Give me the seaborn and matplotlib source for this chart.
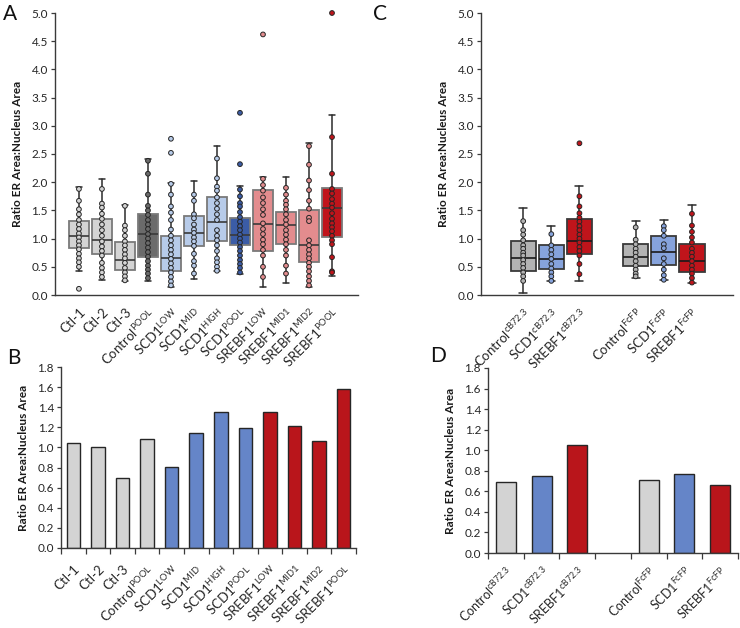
import numpy as np
import pandas as pd
import matplotlib
matplotlib.use("Agg")
import matplotlib.pyplot as plt
import seaborn as sns

# ---------------- data ----------------
a_names = ["Ctl-1", "Ctl-2", "Ctl-3", "Control POOL", "SCD1 LOW", "SCD1 MID", "SCD1 HIGH",
           "SCD1 POOL", "SREBF1 LOW", "SREBF1 MID1", "SREBF1 MID2", "SREBF1 POOL"]
a_labels = ["Ctl-1", "Ctl-2", "Ctl-3", r"Control$^{\mathregular{POOL}}$", r"SCD1$^{\mathregular{LOW}}$",
            r"SCD1$^{\mathregular{MID}}$", r"SCD1$^{\mathregular{HIGH}}$", r"SCD1$^{\mathregular{POOL}}$",
            r"SREBF1$^{\mathregular{LOW}}$", r"SREBF1$^{\mathregular{MID1}}$", r"SREBF1$^{\mathregular{MID2}}$",
            r"SREBF1$^{\mathregular{POOL}}$"]
a_q1 = [0.83, 0.73, 0.45, 0.67, 0.42, 0.87, 0.95, 0.89, 0.78, 0.90, 0.58, 1.02]
a_med = [1.04, 0.98, 0.62, 1.08, 0.65, 1.10, 1.30, 1.07, 1.26, 1.24, 0.88, 1.55]
a_q3 = [1.31, 1.34, 0.94, 1.43, 1.04, 1.40, 1.74, 1.37, 1.86, 1.47, 1.50, 1.90]
a_lo = [0.42, 0.27, 0.24, 0.24, 0.15, 0.29, 0.42, 0.37, 0.15, 0.21, 0.15, 0.33]
a_hi = [1.92, 2.05, 1.60, 2.41, 1.99, 2.03, 2.64, 1.93, 2.09, 2.10, 2.69, 3.20]
a_points = {
    "Ctl-1": [1.88, 1.67, 1.52, 1.43, 1.33, 1.25, 1.17, 1.09, 1.02, 0.95, 0.88, 0.81, 0.73, 0.65, 0.58, 0.50, 0.11],
    "Ctl-2": [1.88, 1.62, 1.55, 1.44, 1.35, 1.25, 1.15, 1.05, 0.95, 0.86, 0.78, 0.70, 0.57, 0.48, 0.40, 0.32],
    "Ctl-3": [1.58, 1.23, 1.15, 1.05, 0.95, 0.88, 0.80, 0.72, 0.65, 0.57, 0.48, 0.40, 0.33, 0.26],
    "Control POOL": [2.38, 2.15, 1.78, 1.58, 1.50, 1.42, 1.33, 1.25, 1.17, 1.08, 1.00, 0.92, 0.84, 0.76,
                     0.68, 0.60, 0.52, 0.45, 0.38, 0.30],
    "SCD1 LOW": [2.77, 2.52, 1.97, 1.78, 1.57, 1.46, 1.33, 1.16, 1.05, 0.97, 0.88, 0.80, 0.72, 0.64,
                 0.56, 0.48, 0.40, 0.32, 0.24, 0.17],
    "SCD1 MID": [1.78, 1.67, 1.43, 1.36, 1.25, 1.16, 1.10, 1.02, 0.95, 0.87, 0.73, 0.60, 0.52, 0.38],
    "SCD1 HIGH": [2.42, 2.07, 1.92, 1.85, 1.73, 1.63, 1.53, 1.43, 1.33, 1.15, 1.05, 0.97, 0.88, 0.78,
                  0.65, 0.58, 0.50, 0.43],
    "SCD1 POOL": [3.23, 2.32, 1.87, 1.75, 1.63, 1.57, 1.47, 1.38, 1.30, 1.22, 1.15, 1.07, 1.00, 0.93,
                  0.85, 0.78, 0.70, 0.62, 0.55, 0.48, 0.40],
    "SREBF1 LOW": [4.62, 2.06, 1.95, 1.85, 1.73, 1.63, 1.52, 1.42, 1.27, 1.17, 1.08, 0.98, 0.90, 0.80,
                   0.70, 0.50, 0.32],
    "SREBF1 MID1": [1.90, 1.78, 1.67, 1.60, 1.52, 1.43, 1.33, 1.25, 1.15, 1.07, 0.98, 0.90, 0.80, 0.70,
                    0.52, 0.38],
    "SREBF1 MID2": [2.64, 2.31, 2.03, 1.86, 1.67, 1.53, 1.37, 1.31, 0.97, 0.88, 0.80, 0.72, 0.65, 0.57,
                    0.50, 0.42, 0.33, 0.25, 0.17],
    "SREBF1 POOL": [5.00, 2.80, 2.15, 1.88, 1.80, 1.70, 1.62, 1.55, 1.45, 1.35, 1.27, 1.20, 1.13, 1.05,
                    0.97, 0.90, 0.67, 0.42, 0.40],
}

c_names = ["Control cB72.3", "SCD1 cB72.3", "SREBF1 cB72.3", "Control FcFP", "SCD1 FcFP", "SREBF1 FcFP"]
c_labels = [r"Control$^{\mathregular{cB72.3}}$", r"SCD1$^{\mathregular{cB72.3}}$", r"SREBF1$^{\mathregular{cB72.3}}$",
            r"Control$^{\mathregular{FcFP}}$", r"SCD1$^{\mathregular{FcFP}}$", r"SREBF1$^{\mathregular{FcFP}}$"]
c_q1 = [0.43, 0.46, 0.73, 0.52, 0.54, 0.40]
c_med = [0.66, 0.64, 0.95, 0.68, 0.76, 0.60]
c_q3 = [0.95, 0.88, 1.34, 0.90, 1.04, 0.90]
c_lo = [0.04, 0.24, 0.24, 0.31, 0.26, 0.21]
c_hi = [1.54, 1.22, 1.93, 1.32, 1.33, 1.59]
c_points = {
    "Control cB72.3": [1.31, 1.15, 1.07, 0.97, 0.88, 0.82, 0.75, 0.70, 0.62, 0.55, 0.48, 0.40, 0.33, 0.25],
    "SCD1 cB72.3": [1.08, 0.88, 0.80, 0.72, 0.64, 0.55, 0.47, 0.40, 0.33, 0.25],
    "SREBF1 cB72.3": [2.69, 1.75, 1.57, 1.45, 1.37, 1.30, 1.22, 1.15, 1.07, 1.00, 0.93, 0.85, 0.78, 0.70,
                      0.55, 0.37],
    "Control FcFP": [1.20, 0.98, 0.90, 0.82, 0.75, 0.68, 0.60, 0.52, 0.45, 0.38, 0.33],
    "SCD1 FcFP": [1.22, 1.15, 1.05, 0.90, 0.83, 0.65, 0.55, 0.45, 0.35, 0.27],
    "SREBF1 FcFP": [1.44, 1.23, 1.12, 1.02, 0.93, 0.82, 0.75, 0.68, 0.60, 0.52, 0.45, 0.38, 0.30, 0.22],
}

b_values = [1.04, 1.00, 0.70, 1.08, 0.81, 1.14, 1.35, 1.19, 1.35, 1.21, 1.06, 1.58]
d_values = [0.69, 0.75, 1.05, 0.71, 0.77, 0.66]

# ---------------- style ----------------
sns.set_theme(style="white")
plt.rcParams["font.family"] = ["Lato", "DejaVu Sans"]
plt.rcParams["mathtext.fontset"] = "custom"
plt.rcParams["mathtext.rm"] = "Lato"
plt.rcParams["mathtext.it"] = "Lato"
plt.rcParams["mathtext.bf"] = "Lato:bold"

a_colors = ["#d4d4d4", "#d4d4d4", "#d4d4d4", "#6b6b6b", "#b7cbe9", "#b7cbe9", "#b7cbe9", "#3b5ca6",
            "#e38c8e", "#e38c8e", "#e38c8e", "#c0141b"]
c_colors = ["#b3b3b3", "#86a3dc", "#c0141b", "#b3b3b3", "#86a3dc", "#c0141b"]
b_colors = ["#d3d3d3"] * 4 + ["#6585c8"] * 4 + ["#b9151b"] * 4
d_colors = ["#d3d3d3", "#6585c8", "#b9151b", "#d3d3d3", "#6585c8", "#b9151b"]

fig = plt.figure(figsize=(7.4, 6.28), dpi=100)
W, H = 740, 628


def add_ax(l, r, t, b):
    return fig.add_axes([l / W, 1 - b / H, (r - l) / W, (b - t) / H])


axA = add_ax(55, 358, 13, 295)
axC = add_ax(481, 733, 13, 295)
axB = add_ax(61, 356, 367, 548)
axD = add_ax(488, 738, 368, 553)

spine_col = "#3a3a3a"


def style_axis(ax, yticks):
    for s in ["top", "right"]:
        ax.spines[s].set_visible(False)
    for s in ["left", "bottom"]:
        ax.spines[s].set_color(spine_col)
        ax.spines[s].set_linewidth(1.0)
    ax.set_yticks(yticks)
    ax.set_yticklabels([f"{v:.1f}" for v in yticks], fontsize=8.5, color="#262626")
    ax.tick_params(axis="y", left=True, direction="out", length=3, width=0.9, color=spine_col, pad=2)
    ax.set_ylabel("Ratio ER Area:Nucleus Area", fontsize=8.5, fontweight="bold", color="#1a1a1a", labelpad=6)
    ax.grid(False)


def draw_boxes(ax, positions, q1, med, q3, lo, hi, colors, edge, med_col, width):
    stats = []
    for i in range(len(positions)):
        stats.append(dict(q1=q1[i], med=med[i], q3=q3[i], whislo=lo[i], whishi=hi[i], fliers=[]))
    bp = ax.bxp(stats, positions=positions, widths=width, patch_artist=True, showfliers=False,
                manage_ticks=False, capwidths=width * 0.32,
                whiskerprops=dict(color="#2b2b2b", linewidth=1.1),
                capprops=dict(color="#2b2b2b", linewidth=1.1),
                medianprops=dict(color=med_col, linewidth=1.2),
                boxprops=dict(linewidth=1.3))
    for patch, col in zip(bp["boxes"], colors):
        patch.set_facecolor(col)
        patch.set_edgecolor(edge)
        patch.set_zorder(2)
    for ln in bp["whiskers"] + bp["caps"]:
        ln.set_zorder(1.5)
    for ln in bp["medians"]:
        ln.set_zorder(2.5)


# ---------------- panel A ----------------
dfA = pd.DataFrame([(k, v) for k in a_names for v in a_points[k]], columns=["group", "value"])
draw_boxes(axA, list(range(12)), a_q1, a_med, a_q3, a_lo, a_hi, a_colors, "#7a7a7a", "#3a3a3a", 0.88)
sns.stripplot(data=dfA, x="group", y="value", hue="group", order=a_names, hue_order=a_names,
              palette=dict(zip(a_names, a_colors)), jitter=False, size=3.4, linewidth=0.7,
              edgecolor="#262626", legend=False, ax=axA, zorder=3, clip_on=False)
axA.set_xlim(-1.04, 12.13)
axA.set_ylim(0, 5)
style_axis(axA, np.arange(0, 5.01, 0.5))
axA.set_xlabel("")
axA.set_xticks(range(12))
axA.set_xticklabels(a_labels, rotation=45, ha="right", rotation_mode="anchor", fontsize=9.5, color="#262626")
axA.tick_params(axis="x", bottom=False, pad=2)

# ---------------- panel C ----------------
c_order = c_names[:3] + ["gap"] + c_names[3:]
c_pos = [0, 1, 2, 4, 5, 6]
dfC = pd.DataFrame([(k, v) for k in c_names for v in c_points[k]], columns=["group", "value"])
draw_boxes(axC, c_pos, c_q1, c_med, c_q3, c_lo, c_hi, c_colors, "#3a3a3a", "#1a1a1a", 0.9)
sns.stripplot(data=dfC, x="group", y="value", hue="group", order=c_order, hue_order=c_names,
              palette=dict(zip(c_names, c_colors)), jitter=False, size=3.4, linewidth=0.7,
              edgecolor="#262626", legend=False, ax=axC, zorder=3)
axC.set_xlim(-1.5, 7.46)
axC.set_ylim(0, 5)
style_axis(axC, np.arange(0, 5.01, 0.5))
axC.set_xlabel("")
axC.set_xticks(c_pos)
axC.set_xticklabels(c_labels, rotation=45, ha="right", rotation_mode="anchor", fontsize=9.5, color="#262626")
axC.tick_params(axis="x", bottom=False, pad=2)

# ---------------- panel B ----------------
sns.barplot(x=a_names, y=b_values, hue=a_names, order=a_names, hue_order=a_names,
            palette=dict(zip(a_names, b_colors)), width=0.55, edgecolor="#262626", linewidth=1.0,
            saturation=1, legend=False, ax=axB)
axB.set_xlim(-0.5, 11.5)
axB.set_ylim(0, 1.8)
style_axis(axB, np.arange(0, 1.81, 0.2))
axB.set_xticks(range(12))
axB.set_xticklabels(a_labels, rotation=45, ha="right", rotation_mode="anchor", fontsize=9.5, color="#262626")
axB.set_xticks(np.arange(-0.5, 12, 1.0), minor=True)
axB.tick_params(axis="x", which="major", bottom=False, pad=5)
axB.tick_params(axis="x", which="minor", bottom=True, direction="out", length=4, width=0.9, color=spine_col)

# ---------------- panel D ----------------
sns.barplot(x=c_names, y=d_values, hue=c_names, order=c_order, hue_order=c_names,
            palette=dict(zip(c_names, d_colors)), width=0.56, edgecolor="#262626", linewidth=1.0,
            saturation=1, legend=False, ax=axD)
axD.set_xlim(-0.5, 6.5)
axD.set_ylim(0, 1.8)
style_axis(axD, np.arange(0, 1.81, 0.2))
axD.set_xticks(c_pos)
axD.set_xticklabels(c_labels, rotation=45, ha="right", rotation_mode="anchor", fontsize=9.0, color="#262626")
axD.set_xticks(np.arange(-0.5, 7, 1.0), minor=True)
axD.tick_params(axis="x", which="major", bottom=False, pad=2)
axD.tick_params(axis="x", which="minor", bottom=True, direction="out", length=4, width=0.9, color=spine_col)

# ---------------- panel letters ----------------
for txt, x, y in [("A", 3, 4), ("C", 373, 4), ("B", 7, 348), ("D", 430, 346)]:
    fig.text(x / W, 1 - y / H, txt, fontsize=15, va="top", ha="left", color="#111111")

fig.savefig("out.png", dpi=100)
